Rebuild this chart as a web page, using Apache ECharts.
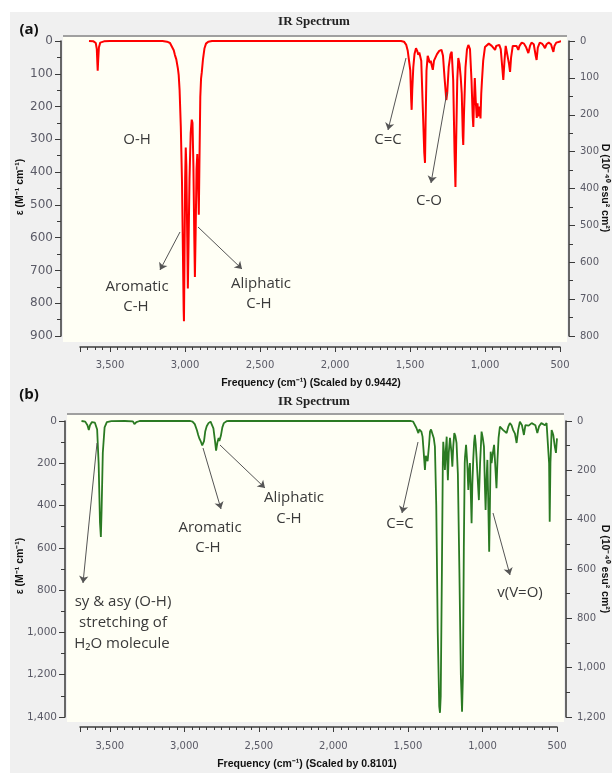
<!DOCTYPE html>
<html>
<head>
<meta charset="utf-8">
<script src="https://cdn.jsdelivr.net/npm/echarts@6/dist/echarts.min.js"></script>
<style>
html, body { margin: 0; padding: 0; background: #fff; }
#main { width: 612px; height: 773px; }
</style>
</head>
<body>
<div id="main"></div>
<script>
// (a) spectrum: [wavenumber, epsilon]
const spectrumA = [
  [3640,0],[3610,1],[3595,6],[3588,25],[3584,70],[3582,91],[3579,60],[3574,20],[3565,5],[3540,1],[3500,0],
  [3150,0],[3120,2],[3100,6],[3087,12],[3075,28],[3067,43],[3058,56],[3052,62],[3047,85],[3042,104],[3036,150],
  [3028,260],[3020,430],[3014,640],[3009,820],[3007,855],[3004,700],[2999,420],[2995,325],[2991,380],[2985,600],
  [2981,755],[2977,640],[2970,420],[2962,280],[2955,240],[2950,250],[2944,380],[2938,600],[2934,720],[2929,580],
  [2923,390],[2918,345],[2913,420],[2908,530],[2904,380],[2898,170],[2893,115],[2888,95],[2880,55],[2870,22],
  [2860,8],[2845,2],[2820,0],
  [1560,0],[1540,2],[1525,12],[1515,30],[1505,35],[1498,90],[1492,180],[1489,210],[1485,150],[1478,80],[1470,40],
  [1460,22],[1452,30],[1445,42],[1438,35],[1425,60],[1415,200],[1405,340],[1400,372],[1396,250],[1390,90],[1382,45],
  [1375,55],[1368,67],[1362,60],[1355,75],[1348,88],[1340,60],[1330,55],[1320,40],[1305,30],[1290,27],[1280,45],
  [1270,110],[1258,180],[1252,160],[1242,80],[1230,40],[1222,33],[1212,120],[1203,340],[1197,445],[1192,300],
  [1185,120],[1178,52],[1170,70],[1162,110],[1155,160],[1148,290],[1145,317],[1140,220],[1130,80],[1120,25],
  [1111,12],[1100,25],[1090,120],[1082,230],[1078,262],[1073,180],[1068,113],[1062,180],[1055,235],[1050,190],
  [1045,230],[1040,236],[1035,200],[1030,236],[1025,160],[1020,119],[1012,60],[1000,18],[990,15],[975,8],[967,6],
  [955,15],[945,18],[933,27],[925,15],[915,20],[905,12],[895,25],[885,80],[878,119],[870,60],[862,15],[850,20],
  [840,70],[833,94],[826,50],[815,15],[805,10],[790,15],[778,27],[770,15],[755,5],[740,8],[725,20],[711,37],
  [700,15],[690,5],[675,10],[662,45],[656,58],[648,20],[635,5],[620,8],[608,15],[600,22],[590,10],[575,5],
  [560,10],[550,25],[544,33],[537,15],[525,5],[510,3],[489,0]
];

// (b) spectrum: [wavenumber, epsilon]
const spectrumB = [
  [3690,0],[3665,3],[3650,20],[3641,43],[3633,20],[3620,5],[3600,8],[3585,40],[3575,200],[3566,480],[3560,548],
  [3555,420],[3547,150],[3535,30],[3520,5],[3490,1],[3400,0],[3345,2],[3335,15],[3330,20],[3322,5],[3300,0],
  [2960,0],[2945,3],[2930,15],[2915,45],[2907,66],[2898,85],[2889,98],[2880,115],[2874,121],[2868,95],[2860,50],
  [2850,25],[2838,10],[2824,3],[2815,10],[2805,35],[2795,90],[2787,140],[2784,145],[2778,100],[2770,80],[2765,95],
  [2762,104],[2755,70],[2745,30],[2735,10],[2717,1],[2700,0],
  [1480,0],[1465,3],[1455,10],[1443,33],[1437,45],[1430,57],[1424,40],[1418,35],[1410,50],[1402,74],[1395,140],
  [1386,232],[1380,165],[1375,170],[1368,190],[1364,192],[1358,110],[1352,50],[1345,40],[1335,39],[1327,80],
  [1319,121],[1310,400],[1300,1000],[1290,1350],[1285,1380],[1280,1300],[1272,700],[1266,200],[1263,98],[1258,150],
  [1252,232],[1246,140],[1240,74],[1236,200],[1232,280],[1226,150],[1218,80],[1213,74],[1208,150],[1202,216],
  [1196,120],[1189,57],[1182,70],[1174,104],[1165,250],[1155,700],[1145,1200],[1137,1375],[1131,1200],[1125,600],
  [1119,200],[1117,169],[1110,113],[1102,200],[1095,326],[1089,230],[1084,199],[1078,350],[1073,484],[1068,300],
  [1062,184],[1056,100],[1051,66],[1045,110],[1040,169],[1030,300],[1024,374],[1016,200],[1006,50],[998,80],
  [990,121],[984,300],[979,421],[973,280],[967,184],[962,350],[955,618],[950,400],[945,145],[939,199],[930,150],
  [922,113],[915,200],[906,318],[899,180],[892,80],[883,27],[872,35],[861,43],[850,35],[838,57],[826,25],[816,10],
  [805,20],[794,43],[782,60],[771,104],[760,40],[749,3],[735,20],[722,66],[712,20],[700,15],[690,22],[681,27],
  [670,10],[659,3],[645,20],[632,57],[620,25],[605,10],[592,15],[581,20],[570,10],[560,15],[553,200],[549,476],
  [544,200],[536,43],[530,55],[525,66],[515,120],[507,151],[503,110],[500,82]
];

const axisCol = '#3a3a3a';
const labelCol = '#5a5a66';
const noteCol = '#3a3a3a';

function fmt(v) {
  return String(v).replace(/\B(?=(\d{3})+(?!\d))/g, ',');
}

function xAxisOf(grid, offset, margin) {
  return {
    type: 'value', gridIndex: grid, min: 500, max: 3700, interval: 500, inverse: true, offset: offset,
    axisLine: { show: true, onZero: false, lineStyle: { color: axisCol, width: 1.5 } },
    axisTick: { show: true, length: 5, lineStyle: { color: axisCol } },
    minorTick: { show: true, splitNumber: 10, length: 3, lineStyle: { color: axisCol } },
    axisLabel: { margin: margin, color: labelCol, fontSize: 10, fontFamily: 'DejaVu Sans', formatter: fmt, showMaxLabel: false },
    splitLine: { show: false }, minorSplitLine: { show: false }
  };
}

function yAxisOf(grid, pos, max, step, offset, margin, size) {
  return {
    type: 'value', gridIndex: grid, position: pos, min: 0, max: max, interval: step, inverse: true, offset: offset,
    axisLine: { show: true, onZero: false, lineStyle: { color: axisCol, width: 1.5 } },
    axisTick: { show: true, length: 6, lineStyle: { color: axisCol } },
    minorTick: { show: true, splitNumber: 2, length: 4, lineStyle: { color: axisCol } },
    axisLabel: { margin: margin, color: labelCol, fontSize: size, fontFamily: 'DejaVu Sans', formatter: fmt },
    splitLine: { show: false }, minorSplitLine: { show: false }
  };
}

function txt(x, y, s, font, color, rot) {
  return {
    type: 'text', x: x, y: y, rotation: rot || 0, z: 100,
    style: { text: s, font: font, fill: color, align: 'center', verticalAlign: 'middle', textAlign: 'center', textVerticalAlign: 'middle' }
  };
}

function rect(x, y, w, h, color) {
  return { type: 'rect', z: -10, silent: true, shape: { x: x, y: y, width: w, height: h }, style: { fill: color } };
}

function arrows(list) {
  return {
    silent: true, animation: false,
    symbol: ['none', 'arrow'], symbolSize: 7,
    label: { show: false },
    lineStyle: { color: '#555', width: 1, type: 'solid' },
    emphasis: { disabled: true },
    data: list.map(a => [{ x: a[0], y: a[1] }, { x: a[2], y: a[3] }])
  };
}

const noteFont = '15px "Open Sans"';
const nameFont = 'bold 10.5px "Liberation Sans"';
const titleFont = 'bold 13px "Liberation Serif"';

const myChart = echarts.init(document.getElementById('main'));
myChart.setOption({
  animation: false,
  backgroundColor: '#fff',
  grid: [
    { left: 80, top: 41, width: 480, height: 295 },
    { left: 80, top: 421, width: 477, height: 296 }
  ],
  xAxis: [xAxisOf(0, 11, 13), xAxisOf(1, 10, 14)],
  yAxis: [
    yAxisOf(0, 'left', 900, 100, 19, 8, 12),
    yAxisOf(0, 'right', 800, 100, 9, 11, 10),
    yAxisOf(1, 'left', 1400, 200, 15, 8, 10.5),
    yAxisOf(1, 'right', 1200, 200, 9, 11, 10)
  ],
  graphic: [
    rect(10, 12, 602, 761, '#f0f0f0'),
    rect(63, 36, 504, 306, '#fffff5'),
    rect(63, 35, 504, 2, '#a0a0a0'),
    rect(67, 414, 497, 308, '#fffff5'),
    rect(67, 413, 497, 2, '#a0a0a0'),
    txt(29, 30, '(a)', 'bold 15px "Open Sans"', '#111'),
    txt(29, 395, '(b)', 'bold 15px "Open Sans"', '#111'),
    txt(314, 22, 'IR Spectrum', titleFont, '#222'),
    txt(314, 402, 'IR Spectrum', titleFont, '#222'),
    txt(311, 383, 'Frequency (cm⁻¹) (Scaled by 0.9442)', nameFont, '#111'),
    txt(307, 764, 'Frequency (cm⁻¹) (Scaled by 0.8101)', nameFont, '#111'),
    txt(20, 187, 'ε (M⁻¹ cm⁻¹)', nameFont, '#111', Math.PI / 2),
    txt(20, 566, 'ε (M⁻¹ cm⁻¹)', nameFont, '#111', Math.PI / 2),
    txt(605, 188, 'D (10⁻⁴⁰ esu² cm²)', nameFont, '#111', -Math.PI / 2),
    txt(605, 569, 'D (10⁻⁴⁰ esu² cm²)', nameFont, '#111', -Math.PI / 2),
    // notes (a)
    txt(137, 140, 'O-H', noteFont, noteCol),
    txt(137, 287, 'Aromatic', noteFont, noteCol),
    txt(136, 307, 'C-H', noteFont, noteCol),
    txt(261, 284, 'Aliphatic', noteFont, noteCol),
    txt(259, 304, 'C-H', noteFont, noteCol),
    txt(388, 140, 'C=C', noteFont, noteCol),
    txt(429, 201, 'C-O', noteFont, noteCol),
    // notes (b)
    txt(123, 602, 'sy & asy (O-H)', noteFont, noteCol),
    txt(123, 623, 'stretching of', noteFont, noteCol),
    txt(122, 644, 'H₂O molecule', noteFont, noteCol),
    txt(210, 528, 'Aromatic', noteFont, noteCol),
    txt(208, 548, 'C-H', noteFont, noteCol),
    txt(294, 498, 'Aliphatic', noteFont, noteCol),
    txt(289, 519, 'C-H', noteFont, noteCol),
    txt(400, 524, 'C=C', noteFont, noteCol),
    txt(520, 593, 'v(V=O)', noteFont, noteCol)
  ],
  series: [
    {
      type: 'line', xAxisIndex: 0, yAxisIndex: 0, data: spectrumA,
      symbol: 'none', showSymbol: false, z: 3,
      lineStyle: { color: '#ff0000', width: 2 }, itemStyle: { color: '#ff0000' },
      markLine: arrows([[180, 232, 160, 270], [198, 227, 242, 269], [406, 58, 388, 130], [447, 92, 431, 183]])
    },
    {
      type: 'line', xAxisIndex: 1, yAxisIndex: 2, data: spectrumB,
      symbol: 'none', showSymbol: false, z: 3,
      lineStyle: { color: '#2a7a22', width: 1.8 }, itemStyle: { color: '#2a7a22' },
      markLine: arrows([[97, 443, 83, 583], [203, 448, 221, 509], [220, 445, 265, 488], [418, 442, 402, 513], [493, 513, 510, 575]])
    }
  ]
});
</script>
</body>
</html>
